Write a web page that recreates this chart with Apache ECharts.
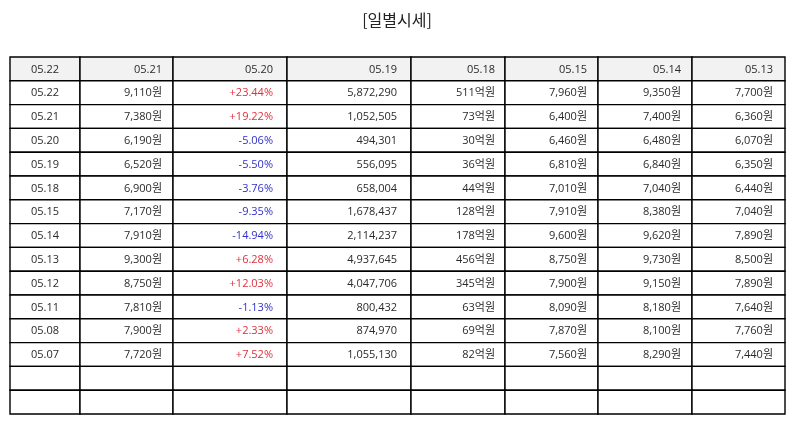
<!DOCTYPE html>
<html>
<head>
<meta charset="utf-8">
<script src="https://cdn.jsdelivr.net/npm/echarts@6/dist/echarts.min.js"></script>
<style>
  html, body { margin: 0; padding: 0; background: #fff; }
  #table { width: 794px; height: 425px; }
</style>
</head>
<body>
<div id="table"></div>
<script>
// header row (as shown in the source table)
var headers = ['05.22', '05.21', '05.20', '05.19', '05.18', '05.15', '05.14', '05.13'];

// daily rows
var dates = ['05.22', '05.21', '05.20', '05.19', '05.18', '05.15', '05.14', '05.13', '05.12', '05.11', '05.08', '05.07'];
var closePrice = [9110, 7380, 6190, 6520, 6900, 7170, 7910, 9300, 8750, 7810, 7900, 7720];
var changeRate = [23.44, 19.22, -5.06, -5.50, -3.76, -9.35, -14.94, 6.28, 12.03, -1.13, 2.33, 7.52];
var volume = [5872290, 1052505, 494301, 556095, 658004, 1678437, 2114237, 4937645, 4047706, 800432, 874970, 1055130];
var tradeValue = [511, 73, 30, 36, 44, 128, 178, 456, 345, 63, 69, 82]; // 억원
var openPrice = [7960, 6400, 6460, 6810, 7010, 7910, 9600, 8750, 7900, 8090, 7870, 7560];
var highPrice = [9350, 7400, 6480, 6840, 7040, 8380, 9620, 9730, 9150, 8180, 8100, 8290];
var lowPrice = [7700, 6360, 6070, 6350, 6440, 7040, 7890, 8500, 7890, 7640, 7760, 7440];
var emptyRows = 2;

// layout: column edges in table units (px wide), right padding per column
var colEdges = [0, 70, 163, 277, 401, 495, 588, 682, 775];
var colPad = [0, 11, 14, 14, 10, 11, 11, 12];
var totalRows = 1 + dates.length + emptyRows;

function fmt(n) {
  return n.toString().replace(/\B(?=(\d{3})+(?!\d))/g, ',');
}

var RED = '#e0303c';
var BLUE = '#3030cc';
var TEXT = '#2a2a2a';

// build cells: [col, row, text, color, isHeader]
var cells = [];
headers.forEach(function (h, c) {
  cells.push([c, 0, h, TEXT, 1]);
});
dates.forEach(function (d, i) {
  var r = i + 1;
  var rate = changeRate[i];
  var rateText = (rate > 0 ? '+' : '') + rate.toFixed(2) + '%';
  cells.push([0, r, d, TEXT, 0]);
  cells.push([1, r, fmt(closePrice[i]) + '원', TEXT, 0]);
  cells.push([2, r, rateText, rate > 0 ? RED : BLUE, 0]);
  cells.push([3, r, fmt(volume[i]), TEXT, 0]);
  cells.push([4, r, fmt(tradeValue[i]) + '억원', TEXT, 0]);
  cells.push([5, r, fmt(openPrice[i]) + '원', TEXT, 0]);
  cells.push([6, r, fmt(highPrice[i]) + '원', TEXT, 0]);
  cells.push([7, r, fmt(lowPrice[i]) + '원', TEXT, 0]);
});
for (var e = 0; e < emptyRows; e++) {
  for (var c = 0; c < headers.length; c++) {
    cells.push([c, 1 + dates.length + e, '', TEXT, 0]);
  }
}

var chart = echarts.init(document.getElementById('table'));

function renderCell(params, api) {
  var col = api.value(0);
  var row = api.value(1);
  var item = cells[params.dataIndex];
  var p0 = api.coord([colEdges[col], row]);
  var p1 = api.coord([colEdges[col + 1], row + 1]);
  var x = p0[0], y = p0[1];
  var w = p1[0] - p0[0], h = p1[1] - p0[1];
  var centered = col === 0;
  return {
    type: 'group',
    children: [
      {
        type: 'rect',
        shape: { x: x, y: y, width: w, height: h },
        style: {
          fill: item[4] ? '#f2f2f2' : '#fff',
          stroke: '#000',
          lineWidth: 1.4
        }
      },
      {
        type: 'text',
        style: {
          x: centered ? x + w / 2 : x + w - colPad[col],
          y: y + h / 2 + 0.5,
          text: item[2],
          fill: item[3],
          align: centered ? 'center' : 'right',
          verticalAlign: 'middle',
          font: '11px "Open Sans", "Noto Sans CJK KR", sans-serif'
        }
      }
    ]
  };
}

var option = {
  animation: false,
  title: {
    text: '[일별시세]',
    left: 'center',
    top: 7,
    textStyle: {
      fontSize: 16,
      fontWeight: 'normal',
      color: '#222',
      fontFamily: '"Noto Sans CJK KR", sans-serif'
    }
  },
  grid: { left: 10, right: 9, top: 57, bottom: 11 },
  xAxis: { type: 'value', min: 0, max: colEdges[colEdges.length - 1], show: false },
  yAxis: { type: 'value', min: 0, max: totalRows, inverse: true, show: false },
  series: [
    {
      type: 'custom',
      renderItem: renderCell,
      data: cells.map(function (c) { return [c[0], c[1]]; }),
      clip: false
    }
  ]
};

chart.setOption(option);
</script>
</body>
</html>
